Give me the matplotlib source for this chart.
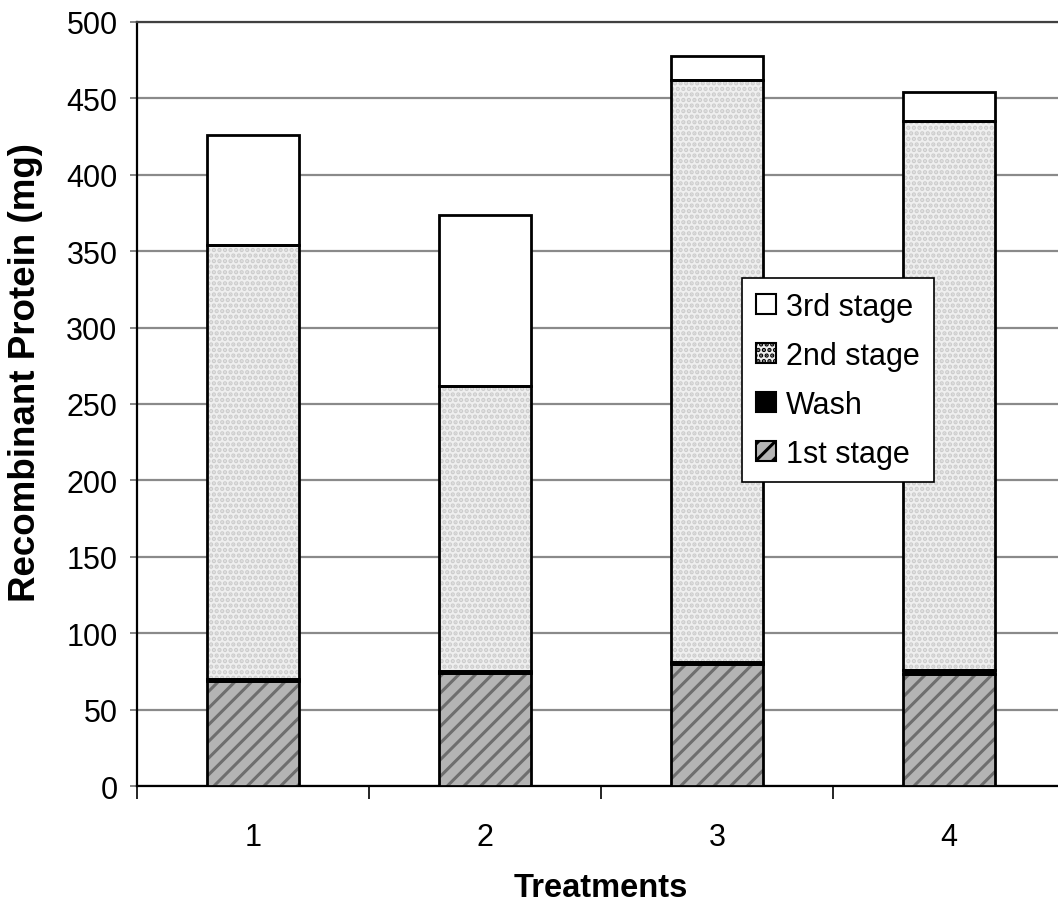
import numpy as np
from matplotlib import pyplot as plt
from matplotlib.patches import Patch

plt.rcParams['font.family'] = ['Liberation Sans', 'DejaVu Sans']
plt.rcParams['hatch.linewidth'] = 2.2

treatments = ['1', '2', '3', '4']
first_stage = [69, 74, 80, 73]
wash = [1, 1, 1, 3]
second_stage = [284, 187, 381, 359]
third_stage = [72, 112, 16, 19]

x = np.arange(len(treatments))
width = 0.4

fig = plt.figure(figsize=(10.58, 9.04), dpi=100)
ax = fig.add_axes([0.1295, 0.1294, 0.877, 0.8452])


def stacked(values, bottom, face, hatch=None, hatch_color=None):
    # fill + hatch first (edgecolor sets the hatch colour), then a black outline
    if hatch:
        ax.bar(x, values, width, bottom=bottom, color=face, edgecolor=hatch_color,
               linewidth=0, hatch=hatch, zorder=3)
    else:
        ax.bar(x, values, width, bottom=bottom, color=face, linewidth=0, zorder=3)
    ax.bar(x, values, width, bottom=bottom, fill=False, edgecolor='black',
           linewidth=2, zorder=4)


bottom = np.zeros(len(x))
stacked(first_stage, bottom, '#b4b4b4', '//', '#6e6e6e')
bottom += first_stage
stacked(wash, bottom, 'black')
bottom += wash
stacked(second_stage, bottom, '#efefef', '...', '#cccccc')
bottom += second_stage
stacked(third_stage, bottom, 'white')

ax.set_xlim(-0.5, 3.5)
ax.set_ylim(0, 500)
ax.set_yticks(np.arange(0, 501, 50))
ax.set_xticks(x)
ax.set_xticklabels(treatments)
ax.set_xticks(np.arange(-0.5, 4, 1), minor=True)
ax.tick_params(axis='x', which='major', length=0, pad=26, labelsize=22)
ax.tick_params(axis='x', which='minor', length=9, width=1.2, direction='out')
ax.tick_params(axis='y', length=5, width=1.2, labelsize=22, pad=9,
               color='#707070')

ax.yaxis.grid(True, color='#8a8a8a', linewidth=1.6, zorder=0)
ax.set_axisbelow(True)
for s in ['left', 'bottom', 'top']:
    ax.spines[s].set_linewidth(1.6)
ax.spines['top'].set_color('#404040')
ax.spines['right'].set_visible(False)

ax.set_ylabel('Recombinant Protein (mg)', fontsize=26.5, fontweight='bold')
ax.yaxis.set_label_coords(-0.101, 0.542)
ax.set_xlabel('Treatments', fontsize=23.5, fontweight='bold', labelpad=14)

handles = [
    Patch(facecolor='white', edgecolor='black', linewidth=1.5, label='3rd stage'),
    Patch(facecolor='#efefef', edgecolor='black', linewidth=1.5, hatch='...', label='2nd stage'),
    Patch(facecolor='black', edgecolor='black', linewidth=1.5, label='Wash'),
    Patch(facecolor='#b4b4b4', edgecolor='black', linewidth=1.5, hatch='//', label='1st stage'),
]
leg = ax.legend(handles=handles, loc='upper left', bbox_to_anchor=(0.652, 0.665),
                fontsize=22, frameon=True, fancybox=False, framealpha=1,
                edgecolor='black', handlelength=0.65, handleheight=0.65,
                handletextpad=0.35, labelspacing=0.62, borderpad=0.45,
                borderaxespad=0)
leg.get_frame().set_linewidth(1.2)

fig.savefig('out.png', dpi=100)
